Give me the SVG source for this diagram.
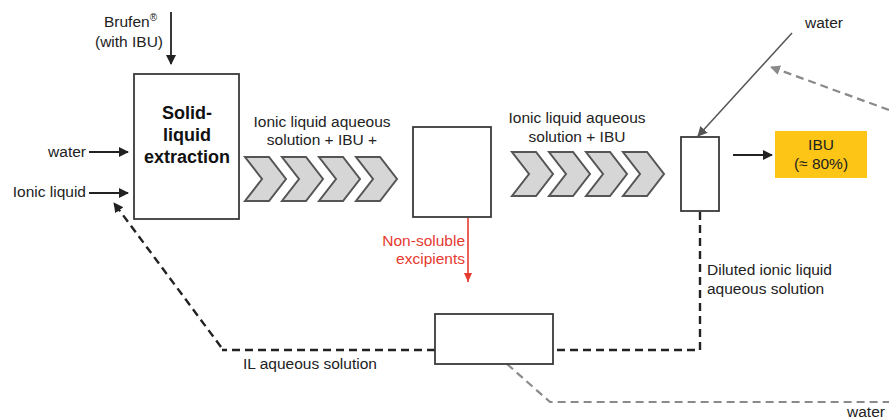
<svg xmlns="http://www.w3.org/2000/svg" width="889" height="419" viewBox="0 0 889 419">
<style>
text{font-family:"Liberation Sans",Arial,sans-serif;font-size:15.5px;fill:#222}
.box{fill:#fff;stroke:#3a3a3a;stroke-width:1.8}
.solid{fill:none;stroke:#222;stroke-width:1.8}
.thin{fill:none;stroke:#555;stroke-width:1.5}
.dash{fill:none;stroke:#222;stroke-width:2.4;stroke-dasharray:8 5}
.gdash{fill:none;stroke:#8a8a8a;stroke-width:2.2;stroke-dasharray:8 5}
.red{fill:none;stroke:#e53a2f;stroke-width:1.6}
.chev{fill:#d6d6d6;stroke:#555;stroke-width:2;stroke-linejoin:miter}
.bold{font-weight:bold;font-size:18px;fill:#111}
</style>
<defs>
<marker id="ah" markerUnits="userSpaceOnUse" markerWidth="12" markerHeight="12" refX="9" refY="5" orient="auto"><path d="M0,0 L10,5 L0,10 Z" fill="#222"/></marker>
<marker id="ahg" markerUnits="userSpaceOnUse" markerWidth="12" markerHeight="12" refX="9" refY="5" orient="auto"><path d="M0,0 L10,5 L0,10 Z" fill="#8a8a8a"/></marker>
<marker id="ahs" markerUnits="userSpaceOnUse" markerWidth="12" markerHeight="12" refX="9" refY="5" orient="auto"><path d="M0,0 L10,5 L0,10 Z" fill="#555"/></marker>
<marker id="ahr" markerUnits="userSpaceOnUse" markerWidth="12" markerHeight="12" refX="9" refY="4" orient="auto"><path d="M0,0 L9,4 L0,8 Z" fill="#e53a2f"/></marker>
<path id="chv" d="M0,0 L24,0 L41,22 L24,44 L0,44 L17,22 Z"/>
</defs>

<g id="connectors">
<line class="solid" x1="171" y1="12" x2="171" y2="64" marker-end="url(#ah)"/>
<line class="solid" x1="89" y1="152" x2="128" y2="152" marker-end="url(#ah)"/>
<line class="solid" x1="89" y1="193" x2="128" y2="193" marker-end="url(#ah)"/>
<line class="red" x1="468" y1="218" x2="468" y2="282" marker-end="url(#ahr)"/>
<line class="thin" x1="792" y1="33" x2="698" y2="136" marker-end="url(#ahs)"/>
<line class="solid" x1="733" y1="155" x2="772" y2="155" marker-end="url(#ah)"/>
<polyline class="dash" points="700,212 700,350 553,350"/>
<line class="dash" x1="435" y1="350" x2="222" y2="350"/>
<line class="dash" x1="221" y1="347" x2="114" y2="203" marker-end="url(#ah)"/>
<polyline class="gdash" points="507,364 550,402 889,402"/>
<line class="gdash" x1="889" y1="110" x2="771" y2="67" marker-end="url(#ahg)"/>
</g>

<g id="chevrons1">
<use href="#chv" class="chev" x="245" y="157"/>
<use href="#chv" class="chev" x="282" y="157"/>
<use href="#chv" class="chev" x="319" y="157"/>
<use href="#chv" class="chev" x="356" y="157"/>
</g>
<g id="chevrons2">
<use href="#chv" class="chev" x="512" y="152"/>
<use href="#chv" class="chev" x="549" y="152"/>
<use href="#chv" class="chev" x="586" y="152"/>
<use href="#chv" class="chev" x="623" y="152"/>
</g>

<g id="brufen">
<text x="157" y="27" text-anchor="end">Brufen<tspan font-size="10" dy="-6">®</tspan></text>
<text x="129" y="47" text-anchor="middle">(with IBU)</text>
</g>
<g id="water-in"><text x="86" y="157" text-anchor="end">water</text></g>
<g id="ionic-in"><text x="86" y="197" text-anchor="end">Ionic liquid</text></g>

<g id="extraction">
<rect class="box" x="134" y="74" width="105" height="145"/>
<text class="bold" x="187" y="119" text-anchor="middle">Solid-</text>
<text class="bold" x="187" y="141" text-anchor="middle">liquid</text>
<text class="bold" x="187" y="163" text-anchor="middle">extraction</text>
</g>

<g id="label1">
<text x="322" y="127" text-anchor="middle">Ionic liquid aqueous</text>
<text x="322" y="145" text-anchor="middle">solution + IBU +</text>
</g>

<g id="filter">
<rect class="box" x="413" y="127" width="78" height="90"/>
</g>
<g id="excipients">
<text x="465" y="246" text-anchor="end" style="fill:#e53a2f">Non-soluble</text>
<text x="465" y="264" text-anchor="end" style="fill:#e53a2f">excipients</text>
</g>

<g id="label2">
<text x="577" y="123" text-anchor="middle">Ionic liquid aqueous</text>
<text x="577" y="142" text-anchor="middle">solution + IBU</text>
</g>

<g id="precip">
<rect class="box" x="681" y="137" width="38" height="74"/>
</g>
<g id="water-top"><text x="824" y="28" text-anchor="middle">water</text></g>

<g id="ibu">
<rect x="775" y="131" width="92" height="47" fill="#fdc516"/>
<text x="821" y="150" text-anchor="middle">IBU</text>
<text x="821" y="169" text-anchor="middle">(≈ 80%)</text>
</g>

<g id="diluted">
<text x="707" y="275" >Diluted ionic liquid</text>
<text x="707" y="294">aqueous solution</text>
</g>

<g id="separator">
<rect class="box" x="435" y="314" width="118" height="50"/>
</g>
<g id="il-label"><text x="310" y="369" text-anchor="middle">IL aqueous solution</text></g>
<g id="water-bottom"><text x="866" y="417" text-anchor="middle">water</text></g>
</svg>
